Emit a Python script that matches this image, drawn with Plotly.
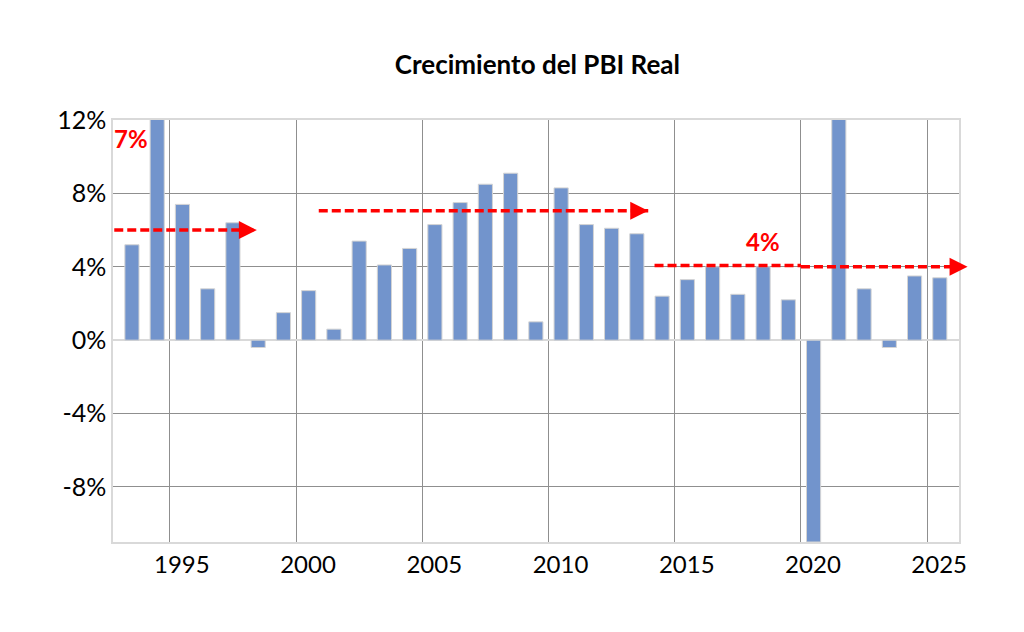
import plotly.graph_objects as go

# crecimiento anual del PBI real (%)
years = list(range(1993, 2026))
growth = [5.2, 12.8, 7.4, 2.8, 6.4, -0.4, 1.5, 2.7, 0.6, 5.4, 4.1, 5.0,
          6.3, 7.5, 8.5, 9.1, 1.0, 8.3, 6.3, 6.1, 5.8, 2.4, 3.3, 4.0,
          2.5, 4.0, 2.2, -11.0, 13.4, 2.8, -0.4, 3.5, 3.4]

x_tick_years = [1995, 2000, 2005, 2010, 2015, 2020, 2025]
x_tick_labels = ["1995", "2000", "2005", "2010", "2015", "2020", "2025"]
y_tick_vals = [-8, -4, 0, 4, 8, 12]
y_tick_labels = ["-8%", "-4%", "0%", "4%", "8%", "12%"]

# tramos de promedio: (inicio, fin, nivel)
avg_segments = [(1992.3, 1997.95, 6.0), (2000.4, 2013.45, 7.05),
                (2013.7, 2019.5, 4.07), (2019.5, 2026.1, 4.0)]
avg_arrows = [(1997.95, 6.0), (2013.45, 7.05), (2026.1, 4.0)]
avg_labels = [(1992.95, 11.0, "7%"), (2018.0, 5.4, "4%")]

RED = "#ff0000"
FONT = "Lato"

fig = go.Figure()
fig.add_trace(go.Bar(
    x=years, y=growth, width=0.56,
    marker=dict(color="#7294cc", line=dict(color="#d4d4d4", width=1)),
))

for x0, x1, lvl in avg_segments:
    fig.add_shape(type="line", xref="x", yref="y", x0=x0, x1=x1, y0=lvl, y1=lvl,
                  line=dict(color=RED, width=3.5, dash="9px,4px"), layer="above")

for xa, ya in avg_arrows:
    fig.add_annotation(x=xa, y=ya, ax=xa - 0.45, ay=ya, axref="x", ayref="y",
                       text="", showarrow=True, arrowhead=2, arrowsize=1.2,
                       arrowwidth=3, arrowcolor=RED, standoff=0)

for xl, yl, txt in avg_labels:
    fig.add_annotation(x=xl, y=yl, text="<b>" + txt + "</b>", showarrow=False,
                       font=dict(family=FONT, size=24, color=RED))

fig.update_layout(
    width=1024, height=632,
    margin=dict(l=105, r=73, t=112, b=98),
    plot_bgcolor="white", paper_bgcolor="white",
    showlegend=False,
    title=dict(text="<b>Crecimiento del PBI Real</b>", x=0.517, xanchor="center",
               y=0.91, yanchor="middle", font=dict(family=FONT, size=26, color="black")),
    font=dict(family=FONT, size=23, color="black"),
    bargap=0.44,
)
fig.update_xaxes(
    range=[1992.25, 2025.76],
    tickvals=[y - 0.5 for y in x_tick_years], ticktext=x_tick_labels,
    ticklabelshift=12, ticks="", tickfont=dict(size=24),
    showgrid=True, gridcolor="#8f8f8f", gridwidth=1,
    showline=True, mirror=True, linecolor="#d9d9d9", linewidth=1.5,
    zeroline=False,
)
fig.update_yaxes(
    range=[-11.0, 12.0],
    tickvals=y_tick_vals, ticktext=y_tick_labels, ticks="", tickfont=dict(size=25),
    showgrid=True, gridcolor="#8f8f8f", gridwidth=1,
    showline=True, mirror=True, linecolor="#d9d9d9", linewidth=1.5,
    zeroline=True, zerolinecolor="#d9d9d9", zerolinewidth=1.5,
)

fig.write_html("out.html")
